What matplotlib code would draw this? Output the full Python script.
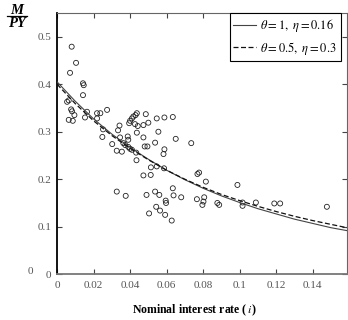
import matplotlib
matplotlib.use('Agg')
import matplotlib.pyplot as plt
import numpy as np

plt.rcParams['font.family'] = ['Liberation Serif', 'DejaVu Serif']
plt.rcParams['mathtext.fontset'] = 'stix'

# observed data points (interest rate, M/PY)
rate = [0.0080, 0.0104, 0.0071, 0.0142, 0.0146, 0.0142, 0.0055, 0.0064, 0.0077, 0.0082,
        0.0095, 0.0064, 0.0086, 0.0164, 0.0153, 0.0219, 0.0237, 0.0274, 0.0219, 0.0252,
        0.0248, 0.0302, 0.0327, 0.0334, 0.0342, 0.0345, 0.0387, 0.0363, 0.0355, 0.0400,
        0.0410, 0.0418, 0.0430, 0.0437, 0.0395, 0.0427, 0.0442, 0.0437, 0.0473, 0.0500,
        0.0486, 0.0546, 0.0588, 0.0634, 0.0555, 0.0473, 0.0373, 0.0390, 0.0400, 0.0410,
        0.0390, 0.0480, 0.0495, 0.0537, 0.0588, 0.0583, 0.0435, 0.0650, 0.0735, 0.0433,
        0.0514, 0.0546, 0.0586, 0.0473, 0.0513, 0.0327, 0.0376, 0.0490, 0.0537, 0.0560,
        0.0595, 0.0597, 0.0634, 0.0638, 0.0543, 0.0564, 0.0592, 0.0504, 0.0628, 0.0769,
        0.0778, 0.0815, 0.0988, 0.0680, 0.0766, 0.0806, 0.0802, 0.0796, 0.0878, 0.0888,
        0.1016, 0.1016, 0.1089, 0.1190, 0.1222, 0.1478]
ratio = [0.479, 0.445, 0.424, 0.402, 0.398, 0.377, 0.363, 0.366, 0.347, 0.343,
         0.335, 0.325, 0.323, 0.342, 0.330, 0.339, 0.339, 0.346, 0.328, 0.305,
         0.289, 0.274, 0.260, 0.303, 0.313, 0.288, 0.290, 0.276, 0.258, 0.323,
         0.328, 0.332, 0.335, 0.339, 0.318, 0.316, 0.312, 0.298, 0.314, 0.319,
         0.337, 0.328, 0.330, 0.331, 0.300, 0.288, 0.272, 0.268, 0.264, 0.262,
         0.283, 0.269, 0.269, 0.277, 0.263, 0.253, 0.240, 0.285, 0.276, 0.256,
         0.225, 0.227, 0.223, 0.208, 0.209, 0.174, 0.165, 0.167, 0.174, 0.167,
         0.155, 0.150, 0.181, 0.166, 0.142, 0.134, 0.125, 0.128, 0.113, 0.211,
         0.214, 0.195, 0.188, 0.162, 0.158, 0.162, 0.153, 0.146, 0.150, 0.146,
         0.151, 0.144, 0.151, 0.149, 0.149, 0.142]

# fitted curves
curve_x = [0, 0.01, 0.02, 0.03, 0.04, 0.05, 0.06, 0.07, 0.08, 0.09, 0.10,
           0.11, 0.12, 0.13, 0.14, 0.15, 0.16]
curve_a = [0.405, 0.364, 0.327, 0.295, 0.267, 0.242, 0.219, 0.199, 0.181, 0.165, 0.151,
           0.138, 0.127, 0.116, 0.107, 0.098, 0.091]
curve_b = [0.400, 0.359, 0.323, 0.292, 0.265, 0.241, 0.219, 0.200, 0.183, 0.168, 0.155,
           0.143, 0.132, 0.122, 0.113, 0.105, 0.097]

label_a = r'$\theta = 1,\ \eta = 0.16$'
label_b = r'$\theta = 0.5,\ \eta = 0.3$'

fig = plt.figure(figsize=(3.48, 3.2), dpi=100)
ax = fig.add_axes([0.164, 0.143, 0.833, 0.815])

ax.scatter(rate, ratio, s=13, facecolors='none', edgecolors='#222222', linewidths=0.6, zorder=2)
ax.plot(curve_x, curve_a, color='#444444', lw=0.8, label=label_a, zorder=3)
ax.plot(curve_x, curve_b, color='#111111', lw=0.9, ls=(0, (4, 2)), label=label_b, zorder=3)

ax.set_xlim(0, 0.1588)
ax.set_ylim(0, 0.549)
ax.set_xticks([0, 0.02, 0.04, 0.06, 0.08, 0.1, 0.12, 0.14])
ax.set_xticklabels(['0', '0.02', '0.04', '0.06', '0.08', '0.1', '0.12', '0.14'])
ax.set_yticks([0, 0.1, 0.2, 0.3, 0.4, 0.5])
ax.set_yticklabels(['0', '0.1', '0.2', '0.3', '0.4', '0.5'])
ax.tick_params(direction='in', top=True, right=True, length=3.5, width=0.8,
               labelsize=8, labelcolor='#555555', color='#444444')
ax.tick_params(axis='x', pad=5)
ax.tick_params(axis='y', pad=4)

ax.spines['left'].set_color('black')
ax.spines['left'].set_linewidth(1.3)
ax.spines['bottom'].set_color('#777777')
ax.spines['bottom'].set_linewidth(1.3)
for s in ['top', 'right']:
    ax.spines[s].set_color('#666666')
    ax.spines[s].set_linewidth(0.8)

leg = ax.legend(loc='upper right', bbox_to_anchor=(0.978, 1.0), borderaxespad=0,
                fontsize=9, fancybox=False, edgecolor='black', framealpha=1,
                handlelength=1.8, handletextpad=0.35, borderpad=0.3, labelspacing=0.45)
leg.get_frame().set_linewidth(0.8)

ax.set_xlabel(r'Nominal interest rate ($\,i\,$)', fontsize=8.5, fontweight='bold')
ax.xaxis.set_label_coords(0.474, -0.11)

# y label as a fraction
fig.text(17 / 348, 1 - 14 / 320, 'M', fontsize=10.5, fontweight='bold', style='italic',
         ha='center', va='baseline')
fig.text(17 / 348, 1 - 27 / 320, 'PY', fontsize=10.5, fontweight='bold', style='italic',
         ha='center', va='baseline')
fig.add_artist(plt.Line2D([7 / 348, 27 / 348], [1 - 16.3 / 320, 1 - 16.3 / 320],
                          color='black', lw=0.9))
fig.text(30 / 348, 1 - 272 / 320, '0', fontsize=8, color='#555555', ha='center', va='center')

fig.savefig('out.png', dpi=100)
